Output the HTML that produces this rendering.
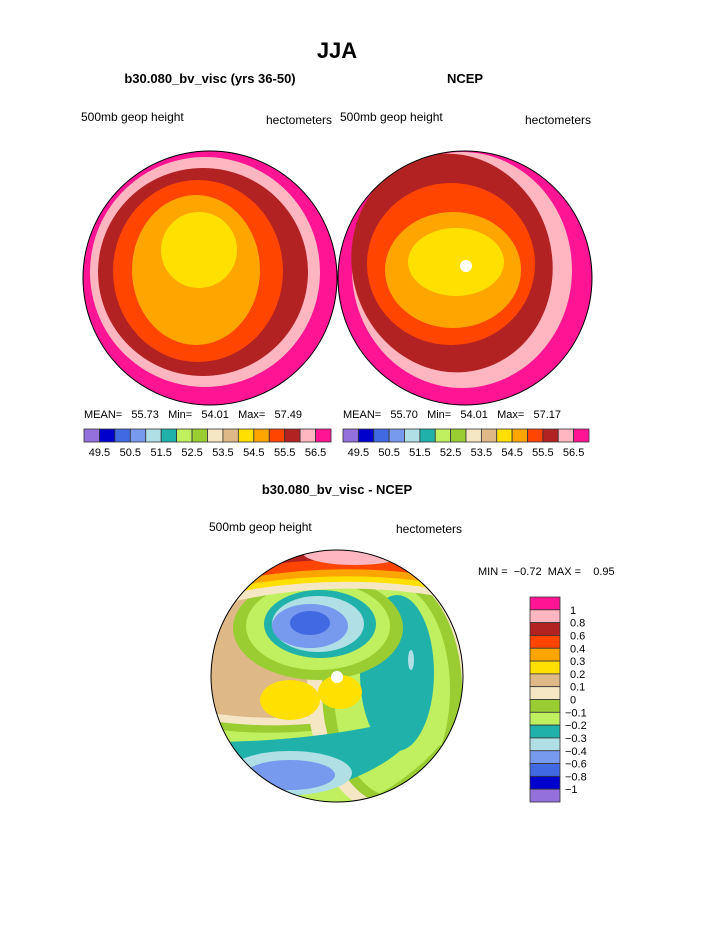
<!DOCTYPE html>
<html><head><meta charset="utf-8"><style>
body{margin:0;background:#fff;}
svg{display:block;font-family:"Liberation Sans",sans-serif;}
</style></head><body>
<svg width="723" height="935" viewBox="0 0 723 935">
<defs>
<clipPath id="c1"><circle cx="210" cy="278" r="127"/></clipPath>
<clipPath id="c2"><circle cx="465" cy="278" r="127"/></clipPath>
<clipPath id="c3"><circle cx="337" cy="676" r="126"/></clipPath>
</defs>
<text x="337" y="58" font-size="22" font-weight="bold" text-anchor="middle">JJA</text>
<text x="210" y="83" font-size="13" font-weight="bold" text-anchor="middle">b30.080_bv_visc (yrs 36-50)</text>
<text x="465" y="83" font-size="13" font-weight="bold" text-anchor="middle">NCEP</text>
<text x="81" y="121" font-size="12">500mb geop height</text>
<text x="266" y="124" font-size="12">hectometers</text>
<text x="340" y="121" font-size="12">500mb geop height</text>
<text x="525" y="124" font-size="12">hectometers</text>

<g clip-path="url(#c1)">
<rect x="80" y="148" width="260" height="260" fill="#FF1493"/>
<ellipse cx="205" cy="272" rx="115" ry="115" fill="#FFB6C1"/>
<ellipse cx="203" cy="272" rx="105" ry="104" fill="#B22222"/>
<ellipse cx="198" cy="271" rx="85" ry="91" fill="#FF4500"/>
<ellipse cx="196" cy="270" rx="64" ry="75" fill="#FFA500"/>
<ellipse cx="199" cy="250" rx="38" ry="38" fill="#FFE000"/>
</g>
<circle cx="210" cy="278" r="127" fill="none" stroke="#000" stroke-width="1"/>

<g clip-path="url(#c2)">
<rect x="335" y="148" width="260" height="260" fill="#FF1493"/>
<ellipse cx="462" cy="270" rx="110" ry="118" fill="#FFB6C1"/>
<ellipse cx="452" cy="263" rx="100" ry="110" fill="#B22222" transform="rotate(-15 452 263)"/>
<ellipse cx="451" cy="264" rx="84" ry="81" fill="#FF4500"/>
<ellipse cx="453" cy="270" rx="68" ry="58" fill="#FFA500"/>
<ellipse cx="456" cy="262" rx="48" ry="34" fill="#FFE000"/>
<circle cx="466" cy="266" r="6" fill="#fff"/>
</g>
<circle cx="465" cy="278" r="127" fill="none" stroke="#000" stroke-width="1"/>

<g clip-path="url(#c3)">
<rect x="205" y="545" width="265" height="265" fill="#DEB887"/>
<path d="M205 712 Q300 728 400 700 L400 812 L205 812Z" fill="#F5E6C4"/>
<path d="M205 720 Q300 735 400 708 L400 812 L205 812Z" fill="#9ACD32"/>
<path d="M205 728 Q300 742 400 715 L400 812 L205 812Z" fill="#C0F060"/>
<ellipse cx="392" cy="690" rx="85" ry="125" fill="#F5E6C4"/>
<ellipse cx="392" cy="690" rx="70" ry="115" fill="#9ACD32"/>
<ellipse cx="392" cy="690" rx="58" ry="106" fill="#C0F060"/>
<ellipse cx="397" cy="673" rx="37" ry="78" fill="#20B2AA"/>
<path d="M205 742 Q300 742 380 725 L415 735 Q385 775 300 795 L205 800Z" fill="#20B2AA"/>
<path d="M340 812 Q400 790 440 745 L470 760 L470 812Z" fill="#9ACD32"/>
<path d="M365 812 Q420 795 450 760 L470 770 L470 812Z" fill="#F5E6C4"/>
<ellipse cx="318" cy="628" rx="85" ry="52" fill="#9ACD32"/>
<ellipse cx="318" cy="626" rx="72" ry="44" fill="#C0F060"/>
<ellipse cx="320" cy="624" rx="56" ry="34" fill="#20B2AA"/>
<ellipse cx="318" cy="624" rx="46" ry="28" fill="#B0E0E6"/>
<ellipse cx="310" cy="626" rx="38" ry="22" fill="#7799EE"/>
<ellipse cx="310" cy="623" rx="20" ry="12" fill="#4169E1"/>
<path d="M200 610 Q340 570 480 605 L480 540 L200 540Z" fill="#F5E6C4"/>
<path d="M200 600 Q340 565 480 597 L480 540 L200 540Z" fill="#FFE000"/>
<path d="M200 594 Q340 560 480 591 L480 540 L200 540Z" fill="#FFA500"/>
<path d="M200 588 Q340 552 480 585 L480 540 L200 540Z" fill="#FF4500"/>
<path d="M200 578 Q340 542 480 577 L480 540 L200 540Z" fill="#B22222"/>
<ellipse cx="355" cy="553" rx="52" ry="12" fill="#FFB6C1"/>
<ellipse cx="290" cy="700" rx="30" ry="20" fill="#FFE000"/>
<ellipse cx="340" cy="692" rx="22" ry="17" fill="#FFE000"/>
<ellipse cx="290" cy="773" rx="62" ry="22" fill="#B0E0E6"/>
<ellipse cx="290" cy="775" rx="45" ry="15" fill="#7799EE"/>
<ellipse cx="411" cy="660" rx="3" ry="10" fill="#B0E0E6"/>
<circle cx="337" cy="677" r="6" fill="#fff"/>
</g>
<circle cx="337" cy="676" r="126" fill="none" stroke="#000" stroke-width="1"/>

<text x="209" y="531" font-size="12">500mb geop height</text>
<text x="396" y="533" font-size="12">hectometers</text>
<text x="337" y="494" font-size="13" font-weight="bold" text-anchor="middle">b30.080_bv_visc - NCEP</text>
<text x="478" y="575" font-size="11" xml:space="preserve">MIN =  −0.72  MAX =    0.95</text>

<text x="84" y="418" font-size="11" xml:space="preserve">MEAN=   55.73   Min=   54.01   Max=   57.49</text>
<text x="343" y="418" font-size="11" xml:space="preserve">MEAN=   55.70   Min=   54.01   Max=   57.17</text>
<g id="bars"></g>
</svg>
<script>
const colors = ["#9370DB","#0000CD","#4169E1","#7799EE","#B0E0E6","#20B2AA","#C0F060","#9ACD32","#F5E6C4","#DEB887","#FFE000","#FFA500","#FF4500","#B22222","#FFB6C1","#FF1493"];
const topLabels = ["49.5","50.5","51.5","52.5","53.5","54.5","55.5","56.5"];
const diffLabels = ["1","0.8","0.6","0.4","0.3","0.2","0.1","0","−0.1","−0.2","−0.3","−0.4","−0.6","−0.8","−1"];
const NS="http://www.w3.org/2000/svg";
const g=document.getElementById('bars');
function mk(t,a){const e=document.createElementNS(NS,t);for(const k in a)e.setAttribute(k,a[k]);g.appendChild(e);return e;}
function hbar(x0,x1,y,name){
  const w=(x1-x0)/colors.length;
  colors.forEach((c,i)=>{
    const r=mk('rect',{x:x0+i*w,y:y,width:w,height:13,fill:c,stroke:'#333','stroke-width':0.8});
    
    
  });
  topLabels.forEach((l,i)=>{
    const t=mk('text',{x:x0+(2*i+1)*w,y:y+27,'font-size':11,'text-anchor':'middle'});
    t.textContent=l;
    
    
  });
}
hbar(84,331,429,'left-colorbar');
hbar(343,589,429,'right-colorbar');
const x=530,y0=597,h=(802-597)/colors.length;
colors.slice().reverse().forEach((c,i)=>{
  const r=mk('rect',{x:x,y:y0+i*h,width:30,height:h,fill:c,stroke:'#333','stroke-width':0.8});
  
  
});
diffLabels.forEach((l,i)=>{
  const t=mk('text',{x:l.startsWith('−')?565:570,y:y0+(i+1)*h+4,'font-size':11});
  t.textContent=l;
  
  
});
</script>
</body></html>
